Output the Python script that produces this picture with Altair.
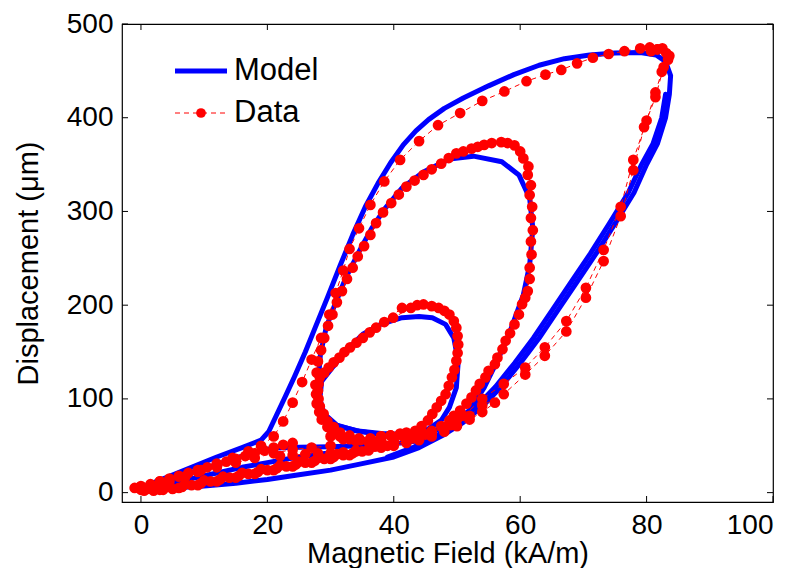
import altair as alt
import pandas as pd

FONT = "Liberation Sans"

# ---------------- axis ticks ----------------
x_ticks = [0, 20, 40, 60, 80, 100]
y_ticks = [0, 100, 200, 300, 400, 500]

# ---------------- Model (blue) paths ----------------
model_major_x = [0, 5, 10, 15, 20, 25, 30, 35, 40, 44, 48, 51, 54, 57, 60, 63, 66, 69, 72, 75, 78, 80, 81.7, 83, 83.6, 83.8, 83, 81.5, 79, 75, 71, 67, 63, 59, 55, 51, 48, 45.5, 43.5, 41.5, 39.5, 37.5, 35.5, 33.5, 31.5, 29.5, 27.5, 26, 24.3, 22.8, 21.4, 20.2, 19, 16, 12, 8, 4, 1, 0]
model_major_y = [4, 5, 7, 10, 14, 19, 24, 31, 38, 48, 62, 75, 92, 113, 138, 165, 195, 225, 255, 287, 320, 350, 372, 400, 425, 445, 460, 467, 469.5, 469, 467, 463, 456, 446, 434, 421, 410, 398, 386, 371, 352, 330, 305, 275, 242, 208, 175, 150, 124, 102, 82, 65, 56, 48, 38, 27, 16, 8, 4]

model_asc2_x = [39, 43, 47.1, 50.1, 53.1, 56.1, 59.1, 62.1, 65.1, 68.1, 71.1, 74.1, 77.1, 79.2, 81, 82.4, 83]
model_asc2_y = [38, 48, 62, 75, 92, 113, 138, 165, 195, 225, 255, 287, 320, 350, 372, 400, 425]

model_mid_x = [28.2, 28.1, 28.4, 29.3, 30.7, 32.4, 34.5, 36.5, 38.6, 41.3, 44.7, 48.8, 52.6, 57.1, 59.8, 61.5, 62, 61.5, 60.5, 58.4, 56.4, 54.3, 52, 49, 45, 41, 37.9, 34.5, 31, 29, 28.2]
model_mid_y = [98, 123, 148, 176, 201, 229, 257, 282, 303, 325, 342, 356, 359, 353, 339, 314, 282, 243, 211, 172, 141, 112, 88, 72, 63, 60, 62, 65.5, 71.5, 82, 98]

model_small_x = [28.6, 30.3, 32.4, 35.1, 37.9, 41.3, 44, 46.1, 48.2, 49.5, 50.2, 49.9, 48.8, 47.5, 45, 42, 38, 34, 31, 29, 28.3, 28.6]
model_small_y = [119, 133.5, 151, 169, 179.5, 186.6, 188, 186.6, 179.5, 165, 140, 112, 91, 77, 66, 62, 63, 66, 72, 84, 100, 119]

model_tail_x = [45, 40, 35, 30, 25, 21, 19, 16, 12, 8, 4, 1, 0]
model_tail_y = [56, 52, 50, 49, 48.5, 47.5, 45, 39, 30, 21, 13, 7, 5]

model_inner_x = [0, 4, 8, 12, 16, 20, 24, 28, 32]
model_inner_y = [5, 9, 15, 21, 27, 32, 37, 41, 44]

# ---------------- Data (red) paths ----------------
data_desc_x = [81.7, 80.5, 79, 76.5, 74, 71.5, 69, 66.5, 64, 61, 57.5, 54, 50.5, 47, 44, 41, 38.5, 36.3, 34.5, 33, 32, 30.8, 29.8, 28.5, 27, 25.5, 24, 22.5, 21, 19, 17, 14.5, 12, 9.5, 7, 4.5, 2, 0, -1]
data_desc_y = [473, 475, 474, 471, 468, 464, 458, 451, 446, 439, 428, 418, 405, 392, 375, 355, 332, 307, 282, 260, 237, 213, 190, 165, 142, 118, 96, 76, 60, 50, 44, 37, 31, 24, 17, 12, 7, 5, 5]

data_ascA_x = [0, 3, 6, 9, 12, 15, 18, 21, 24, 27, 30, 33, 36, 39, 42, 45, 48, 51, 54, 57.4, 60.8, 63.9, 67.3, 70.4, 73.2, 75.9, 77.9, 80, 81.4, 82.4, 83.4, 83.1, 81.7]
data_ascA_y = [3, 3, 5, 8, 12, 16, 20, 24, 28, 32, 36, 40, 45, 50, 55, 62, 70, 82, 100, 116, 133.5, 155, 183, 218.5, 259, 305, 355, 397, 427, 449, 462, 469, 473]

data_ascB_x = [1, 4, 7, 10, 13, 16, 19, 22, 25, 28, 31, 34, 37, 40, 43, 46, 49, 52, 54, 57.4, 60.8, 63.9, 67.3, 70.4, 73.2, 75.9, 77.9, 79.6, 81.4, 82.7, 83.6, 82.5, 80.7]
data_ascB_y = [4, 6, 9, 13, 17, 21, 25, 29, 33, 37, 41, 45, 49, 53, 58, 64, 72, 82, 93, 105, 126, 146, 172, 208, 247, 295, 344, 390, 422, 454, 466, 474, 471]

data_mid1_x = [43, 46, 48.8, 50.5, 52.3, 53.6, 55, 56.4, 57.7, 59.1, 60.3, 61.2, 61.5, 61.7, 61.7, 61.5, 61.2, 60.5, 59.1, 57, 54.3, 52.3, 49.9, 47.5, 44.7, 42, 39.6, 37.2, 35.3, 33.5, 31.8, 30.3, 29, 28, 27.6, 27.8, 28.6, 30.3, 33, 36.5, 40, 43]
data_mid1_y = [62, 66, 77, 87.5, 101.6, 116, 130, 144, 162, 179.5, 201, 215, 240, 268, 293, 317.6, 339, 356.6, 370.5, 374, 371, 367, 362, 351, 339, 326.5, 309, 287.5, 263, 240, 215, 190, 165, 140, 115, 95, 78, 64, 57, 56, 58, 62]

data_mid2_x = [44.5, 47.5, 49.5, 51.5, 53, 54.5, 56, 57.2, 58.4, 59.8, 60.8, 61.5, 61.8, 62, 61.9, 61.7, 61.3, 60, 58, 55.5, 53.3, 51, 48.7, 46, 43.3, 40.8, 38.3, 36.3, 34.3, 32.6, 31, 29.6, 28.5, 27.8, 27.7, 28.2, 29.5, 31.5, 34.7, 38, 41.5, 44.5]
data_mid2_y = [64, 71, 82, 95, 109, 123, 137, 153, 170, 190, 208, 228, 254, 280, 305, 328, 348, 364, 373, 373, 369, 364, 357, 345, 333, 318, 299, 275, 252, 228, 203, 178, 152, 128, 105, 86, 70, 60, 56, 56, 60, 64]

data_small1_x = [38, 41, 43.4, 45.4, 46.8, 48.2, 49.2, 49.9, 50.2, 49.9, 48.8, 47.1, 44.7, 42.7, 39.9, 37.2, 35.1, 33.1, 31.4, 29.7, 28.3, 28, 28.3, 29.5, 31.5, 34.5, 38]
data_small1_y = [60, 63, 66, 77, 91, 105, 123, 140.6, 158, 176, 190, 197, 200.8, 197, 186.6, 176, 165, 155, 144, 133.5, 123, 108.7, 92, 76, 64, 58, 60]

data_small2_x = [39.5, 42, 44.4, 46.1, 47.5, 48.7, 49.6, 50.1, 50.1, 49.5, 48, 46, 43.7, 41.3, 38.5, 36.2, 34.1, 32.2, 30.5, 29, 28.1, 28.1, 28.9, 30.5, 33, 36.3, 39.5]
data_small2_y = [61, 64, 71, 84, 98, 114, 131, 149, 167, 183, 194, 199, 200, 197, 182, 171, 160, 150, 139, 128, 116, 100, 84, 70, 61, 58, 61]

# low-field cycles (dense red band near the origin)
data_low1_x = [24, 22.5, 21, 19.5, 18, 16.5, 15, 13.5, 12, 10.5, 9, 7.5, 6, 4.5, 3, 1.5, 0]
data_low1_y = [53, 51, 48, 45, 42, 39, 36, 33, 30, 27, 24, 21, 18, 15, 12, 9, 6]

data_low2_x = [0.5, 2, 3.5, 5, 6.5, 8, 9.5, 11, 12.5, 14, 15.5, 17, 18.5, 20, 21.5, 23, 24.5, 26, 27.5, 29, 30.5, 32, 33.5, 35]
data_low2_y = [2, 2, 3, 4, 6, 8, 10, 12, 14, 16, 18, 20, 22, 24, 26, 28, 30, 32, 34, 36, 38, 40, 42, 44]

data_low3_x = [0, 3, 6, 9, 12, 15, 18, 21, 24, 27, 30]
data_low3_y = [7, 12, 17, 22, 27, 32, 37, 42, 46, 48, 50]

data_low4_x = [22, 24, 26, 28, 30, 32, 34, 36, 38, 40, 42, 44, 46, 48, 50, 52, 54, 56]
data_low4_y = [39, 40, 41, 42, 42, 43, 44, 46, 48, 50, 53, 56, 60, 65, 71, 78, 86, 96]

data_low5_x = [30, 32, 34, 36, 38, 40, 42, 44, 46, 48, 50]
data_low5_y = [60, 57, 55, 54, 54, 55, 57, 60, 64, 70, 78]

# legend labels
legend_labels = ["Model", "Data"]


def path(name, xs, ys):
    return pd.DataFrame({"H": xs, "D": ys, "path": name, "i": list(range(len(xs)))})


model_df = pd.concat([
    path("major", model_major_x, model_major_y),
    path("asc2", model_asc2_x, model_asc2_y),
    path("mid", model_mid_x, model_mid_y),
    path("small", model_small_x, model_small_y),
    path("tail", model_tail_x, model_tail_y),
    path("inner", model_inner_x, model_inner_y),
], ignore_index=True)

data_df = pd.concat([
    path("desc", data_desc_x, data_desc_y),
    path("ascA", data_ascA_x, data_ascA_y),
    path("ascB", data_ascB_x, data_ascB_y),
    path("mid1", data_mid1_x, data_mid1_y),
    path("mid2", data_mid2_x, data_mid2_y),
    path("small1", data_small1_x, data_small1_y),
    path("small2", data_small2_x, data_small2_y),
    path("low1", data_low1_x, data_low1_y),
    path("low2", data_low2_x, data_low2_y),
    path("low3", data_low3_x, data_low3_y),
    path("low4", data_low4_x, data_low4_y),
    path("low5", data_low5_x, data_low5_y),
], ignore_index=True)

W, H = 651, 478
xscale = alt.Scale(domain=[-3, 100], nice=False, zero=False)
yscale = alt.Scale(domain=[-10, 500], nice=False, zero=False)

axis_style = dict(grid=False, ticks=False, domain=False, format="d",
                  labelFont=FONT, labelFontSize=28, labelColor="black",
                  titleFont=FONT, titleFontSize=29, titleFontWeight="normal", titleColor="black")
x_axis = alt.Axis(title="Magnetic Field (kA/m)", values=x_ticks, labelPadding=9, titlePadding=0, **axis_style)
y_axis = alt.Axis(title="Displacement (μm)", values=y_ticks, labelPadding=9, titlePadding=23, **axis_style)

model = alt.Chart(model_df).mark_line(
    color="#0000FF", strokeWidth=5, strokeJoin="round", strokeCap="round", clip=True
).encode(
    x=alt.X("H:Q", scale=xscale, axis=x_axis),
    y=alt.Y("D:Q", scale=yscale, axis=y_axis),
    detail="path:N",
    order="i:Q",
)

data_line = alt.Chart(data_df).mark_line(
    color="#FF0000", strokeWidth=1, strokeDash=[5, 4], clip=True
).encode(x="H:Q", y="D:Q", detail="path:N", order="i:Q")

data_pts = alt.Chart(data_df).mark_circle(
    color="#FF0000", size=115, opacity=1, clip=True
).encode(x="H:Q", y="D:Q")

# inside tick marks (MATLAB style, all four sides)
xt = pd.DataFrame({"v": x_ticks})
yt = pd.DataFrame({"v": y_ticks})
tick_style = dict(color="black", strokeWidth=1)
xb = alt.Chart(xt).mark_rule(**tick_style).encode(x="v:Q", y=alt.value(H), y2=alt.value(H - 6))
xtop = alt.Chart(xt).mark_rule(**tick_style).encode(x="v:Q", y=alt.value(0), y2=alt.value(6))
yl = alt.Chart(yt).mark_rule(**tick_style).encode(y="v:Q", x=alt.value(0), x2=alt.value(6))
yr = alt.Chart(yt).mark_rule(**tick_style).encode(y="v:Q", x=alt.value(W), x2=alt.value(W - 6))

# legend (drawn manually, top-left inside the axes)
one = pd.DataFrame({"k": [0]})
leg_model_line = alt.Chart(one).mark_rule(color="#0000FF", strokeWidth=5).encode(
    x=alt.value(53), x2=alt.value(105), y=alt.value(47))
leg_data_line = alt.Chart(one).mark_rule(color="#FF0000", strokeWidth=1, strokeDash=[5, 4]).encode(
    x=alt.value(53), x2=alt.value(105), y=alt.value(89))
leg_data_dot = alt.Chart(one).mark_circle(color="#FF0000", size=95, opacity=1).encode(
    x=alt.value(79), y=alt.value(89))
leg_df = pd.DataFrame({"label": legend_labels, "yy": [47, 89]})
leg_text = alt.Chart(leg_df).mark_text(
    align="left", baseline="middle", font=FONT, fontSize=31, color="black"
).encode(text="label:N", x=alt.value(112), y=alt.Y("yy:Q", scale=None))

chart = alt.layer(
    model, data_line, data_pts, xb, xtop, yl, yr,
    leg_model_line, leg_data_line, leg_data_dot, leg_text
).properties(
    width=W, height=H,
    background="white",
    autosize=alt.AutoSizeParams(type="none"),
    padding={"left": 114, "top": 16, "right": 25, "bottom": 66},
).configure_view(
    stroke="black", strokeWidth=1.2
)

chart.save("out.html", embed_options={"renderer": "svg", "actions": False})
